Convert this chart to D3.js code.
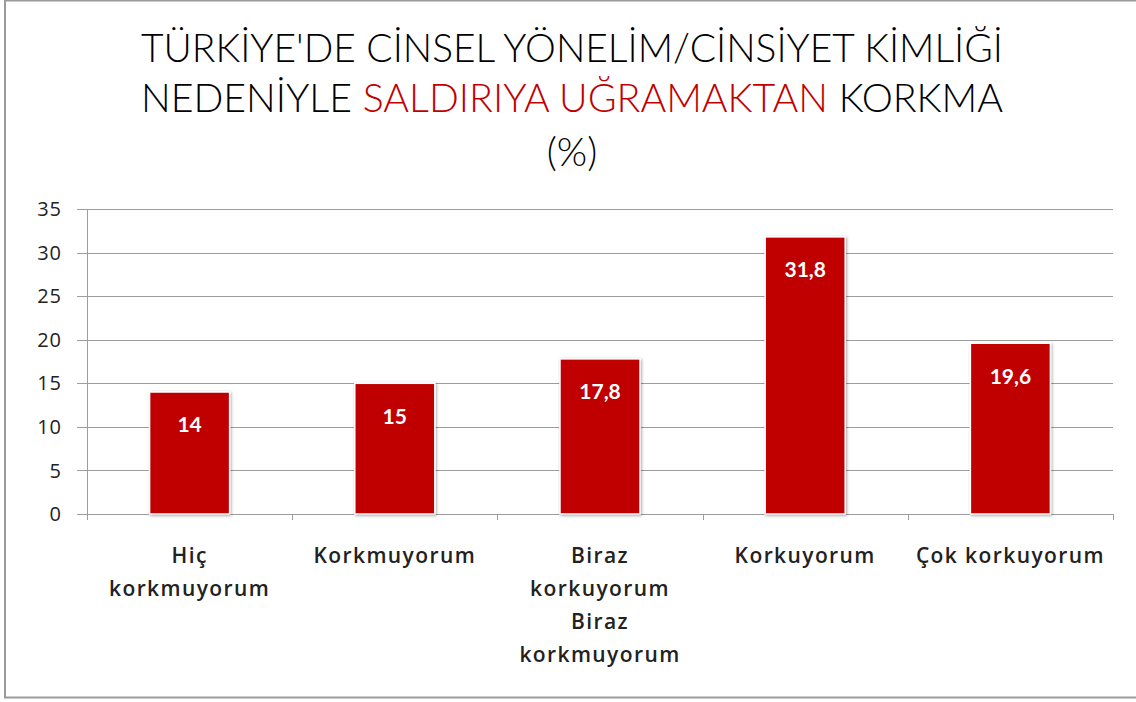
<!DOCTYPE html>
<html>
<head>
<meta charset="utf-8">
<script src="https://cdn.jsdelivr.net/npm/d3@7"></script>
<style>
  html, body { margin: 0; padding: 0; background: #fff; }
  svg { display: block; }
</style>
</head>
<body>
<div id="viz"></div>
<script>
// data
var categories = [
    ['Hiç', 'korkmuyorum'],
    ['Korkmuyorum'],
    ['Biraz', 'korkuyorum', 'Biraz', 'korkmuyorum'],
    ['Korkuyorum'],
    ['Çok korkuyorum']
];
var values = [14, 15, 17.8, 31.8, 19.6];
var valueLabels = ['14', '15', '17,8', '31,8', '19,6'];
var yTicks = [0, 5, 10, 15, 20, 25, 30, 35];

var width = 1136;
var height = 702;
var margin = { top: 209, right: 23, bottom: 188, left: 87 };
var red = '#c00000';

var svg = d3.select('#viz')
    .append('svg')
    .attr('width', width)
    .attr('height', height);

// outer frame
svg.append('rect')
    .attr('x', 5).attr('y', 0.5)
    .attr('width', width + 10).attr('height', 697)
    .attr('fill', 'none')
    .attr('stroke', '#9a9a9a')
    .attr('stroke-width', 2);

var defs = svg.append('defs');
var shadow = defs.append('filter').attr('id', 'shadow')
    .attr('x', '-20%').attr('y', '-10%').attr('width', '140%').attr('height', '120%');
shadow.append('feDropShadow')
    .attr('dx', 1).attr('dy', 1).attr('stdDeviation', 1.5)
    .attr('flood-color', '#000').attr('flood-opacity', 0.35);

// title
var title = svg.append('g')
    .attr('font-family', 'Lato, "Open Sans", sans-serif')
    .attr('font-weight', 300)
    .attr('font-size', 39)
    .attr('fill', '#000')
    .attr('text-anchor', 'middle');

title.append('text')
    .attr('x', 572).attr('y', 62)
    .attr('textLength', 862).attr('lengthAdjust', 'spacingAndGlyphs')
    .text("TÜRKİYE'DE CİNSEL YÖNELİM/CİNSİYET KİMLİĞİ");

var line2 = title.append('text')
    .attr('x', 572).attr('y', 112)
    .attr('textLength', 862).attr('lengthAdjust', 'spacingAndGlyphs');
line2.append('tspan').text('NEDENİYLE ');
line2.append('tspan').attr('fill', red).text('SALDIRIYA UĞRAMAKTAN');
line2.append('tspan').text(' KORKMA');

title.append('text')
    .attr('x', 572).attr('y', 166)
    .text('(%)');

var x = d3.scaleBand()
    .domain(d3.range(values.length))
    .range([margin.left, width - margin.right])
    .paddingInner(0.61)
    .paddingOuter(0.305);

var y = d3.scaleLinear()
    .domain([0, 35])
    .range([height - margin.bottom, margin.top]);

// gridlines
svg.append('g')
    .selectAll('line')
    .data(yTicks)
    .enter().append('line')
    .attr('x1', margin.left - 10)
    .attr('x2', width - margin.right)
    .attr('y1', function (d) { return Math.round(y(d)) + 0.5; })
    .attr('y2', function (d) { return Math.round(y(d)) + 0.5; })
    .attr('stroke', '#9c9c9c')
    .attr('stroke-width', 1);

// y axis line
svg.append('line')
    .attr('x1', margin.left + 0.5).attr('x2', margin.left + 0.5)
    .attr('y1', y(35)).attr('y2', y(0) + 6)
    .attr('stroke', '#9c9c9c');

// y tick labels
svg.append('g')
    .selectAll('text')
    .data(yTicks)
    .enter().append('text')
    .attr('x', 62)
    .attr('y', function (d) { return y(d); })
    .attr('dy', '0.36em')
    .attr('text-anchor', 'end')
    .attr('font-family', '"Open Sans", sans-serif')
    .attr('font-size', 20)
    .attr('letter-spacing', 1)
    .attr('fill', '#222')
    .text(function (d) { return d; });

// category boundary ticks
var step = x.step();
svg.append('g')
    .selectAll('line')
    .data(d3.range(values.length + 1))
    .enter().append('line')
    .attr('x1', function (i) { return Math.round(margin.left + i * step) + 0.5; })
    .attr('x2', function (i) { return Math.round(margin.left + i * step) + 0.5; })
    .attr('y1', y(0)).attr('y2', y(0) + 6)
    .attr('stroke', '#9c9c9c');

// bars
svg.append('g')
    .selectAll('rect')
    .data(values)
    .enter().append('rect')
    .attr('x', function (d, i) { return x(i); })
    .attr('y', function (d) { return y(d); })
    .attr('width', x.bandwidth())
    .attr('height', function (d) { return y(0) - y(d); })
    .attr('fill', red)
    .attr('stroke', '#fff')
    .attr('stroke-width', 1.5)
    .attr('filter', 'url(#shadow)');

// value labels
svg.append('g')
    .selectAll('text')
    .data(values)
    .enter().append('text')
    .attr('x', function (d, i) { return x(i) + x.bandwidth() / 2; })
    .attr('y', function (d) { return y(d) + 33; })
    .attr('dy', '0.35em')
    .attr('text-anchor', 'middle')
    .attr('font-family', 'Lato, sans-serif')
    .attr('font-weight', 'bold')
    .attr('font-size', 21)
    .attr('fill', '#fff')
    .text(function (d, i) { return valueLabels[i]; });

// category labels
var cat = svg.append('g')
    .selectAll('text')
    .data(categories)
    .enter().append('text')
    .attr('x', function (d, i) { return x(i) + x.bandwidth() / 2; })
    .attr('y', 556)
    .attr('text-anchor', 'middle')
    .attr('font-family', '"Open Sans", sans-serif')
    .attr('font-weight', 600)
    .attr('font-size', 21)
    .attr('letter-spacing', 1.4)
    .attr('fill', '#222');

cat.selectAll('tspan')
    .data(function (d) { return d; })
    .enter().append('tspan')
    .attr('x', function () { return d3.select(this.parentNode).attr('x'); })
    .attr('dy', function (d, i) { return i === 0 ? '0.35em' : 33; })
    .text(function (d) { return d; });
</script>
</body>
</html>
